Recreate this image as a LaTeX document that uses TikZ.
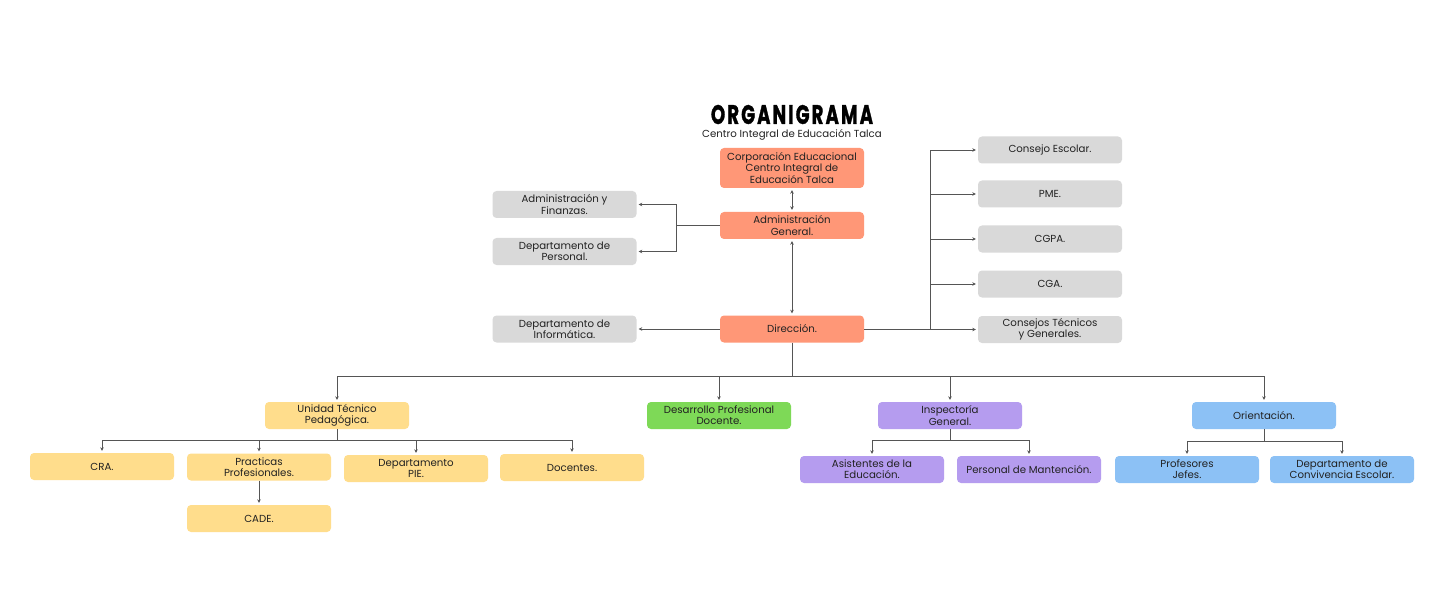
\documentclass[tikz,border=0pt]{standalone}
\usepackage{fontspec}
\setmainfont{Poppins}
\usetikzlibrary{arrows.meta}
\definecolor{salmon}{HTML}{FF9777}
\definecolor{grayb}{HTML}{D9D9D9}
\definecolor{yellowb}{HTML}{FFDD8C}
\definecolor{greenb}{HTML}{7ED957}
\definecolor{purpleb}{HTML}{B59CEF}
\definecolor{blueb}{HTML}{8CC1F5}
\definecolor{linec}{HTML}{555555}
\definecolor{txt}{HTML}{222222}
\begin{document}
\begin{tikzpicture}[x=1pt,y=-1pt,
  box/.style={rounded corners=4pt, minimum width=144pt, minimum height=27pt, align=center, inner sep=1pt, text=txt, font=\fontsize{10.2}{11.2}\selectfont},
  sal/.style={box, fill=salmon},
  gry/.style={box, fill=grayb},
  yel/.style={box, fill=yellowb},
  grn/.style={box, fill=greenb},
  pur/.style={box, fill=purpleb},
  blu/.style={box, fill=blueb},
  ln/.style={draw=linec, line width=0.9pt},
  arr/.style={ln, -{Stealth[length=3.5pt,width=3.5pt]}, shorten >=2pt},
  dbl/.style={ln, {Stealth[length=3.5pt,width=3.5pt]}-{Stealth[length=3.5pt,width=3.5pt]}, shorten >=2pt, shorten <=2pt}
]
\useasboundingbox[fill=white] (0,0) rectangle (1443,596);
% title
\node[inner sep=0pt] (title) at (792,114.5) {\resizebox{162pt}{19pt}{\bfseries\addfontfeature{LetterSpace=12,FakeBold=1.5}ORGANIGRAMA}};
\node[inner sep=0pt, font=\fontsize{10.2}{10.2}\selectfont, text=txt] (sub) at (792,134.5) {Centro Integral de Educación Talca};
% top column
\node[sal, minimum height=40pt] (corp) at (792,168) {Corporación Educacional\\Centro Integral de\\Educación Talca};
\node[sal] (adm) at (792,225.5) {Administración\\General.};
\node[sal] (dir) at (792,329) {Dirección.};
% left grey
\node[gry] (af) at (564.5,204.5) {Administración y\\Finanzas.};
\node[gry] (dp) at (564.5,251.5) {Departamento de\\Personal.};
\node[gry] (inf) at (564.5,329) {Departamento de\\Informática.};
% right grey
\node[gry] (ce) at (1050,150) {Consejo Escolar.};
\node[gry] (pme) at (1050,194) {PME.};
\node[gry] (cgpa) at (1050,239) {CGPA.};
\node[gry] (cga) at (1050,284) {CGA.};
\node[gry] (ctg) at (1050,329.5) {Consejos Técnicos\\y Generales.};
% second level
\node[yel] (utp) at (337,415.5) {Unidad Técnico\\Pedagógica.};
\node[grn] (des) at (719,415.5) {Desarrollo Profesional\\Docente.};
\node[pur] (ins) at (950,415.5) {Inspectoría\\General.};
\node[blu] (ori) at (1264,415.5) {Orientación.};
% utp children
\node[yel] (cra) at (102,466.5) {CRA.};
\node[yel] (pra) at (259,467) {Practicas\\Profesionales.};
\node[yel] (pie) at (416,468.5) {Departamento\\PIE.};
\node[yel] (doc) at (572,467.5) {Docentes.};
\node[yel] (cade) at (259,518.5) {CADE.};
% ins children
\node[pur] (asi) at (872,469.5) {Asistentes de la\\Educación.};
\node[pur] (per) at (1029,469.5) {Personal de Mantención.};
% ori children
\node[blu] (pro) at (1187,469.5) {Profesores\\Jefes.};
\node[blu] (dce) at (1342,469.5) {Departamento de\\Convivencia Escolar.};
% connectors top
\draw[dbl] (corp.south) -- (adm.north);
\draw[dbl] (adm.south) -- (dir.north);
\coordinate (lb) at (676,225.5);
\draw[ln] (adm.west) -- (lb);
\draw[ln] (lb |- af) -- (lb |- dp);
\draw[arr] (lb |- af) -- (af.east);
\draw[arr] (lb |- dp) -- (dp.east);
\draw[arr] (dir.west) -- (inf.west -| inf.east);
\coordinate (rt) at (930,329.5);
\draw[ln] (dir.east |- rt) -- (rt);
\draw[ln] (rt) -- (rt |- ce);
\foreach \n in {ce,pme,cgpa,cga,ctg}{\draw[arr] (rt |- \n) -- (\n.west);}
% bus down
\coordinate (bus) at (792,376);
\draw[ln] (dir.south) -- (bus);
\draw[ln] (utp.north |- bus) -- (ori.north |- bus);
\foreach \n in {utp,des,ins,ori}{\draw[arr] (\n.north |- bus) -- (\n.north);}
% utp bus
\coordinate (ub) at (337,440);
\draw[ln] (utp.south) -- (ub);
\draw[ln] (cra.north |- ub) -- (doc.north |- ub);
\foreach \n in {cra,pra,pie,doc}{\draw[arr] (\n.north |- ub) -- (\n.north);}
\draw[arr] (pra.south) -- (cade.north);
% ins bus
\coordinate (ib) at (950,440);
\draw[ln] (ins.south) -- (ib);
\draw[ln] (asi.north |- ib) -- (per.north |- ib);
\foreach \n in {asi,per}{\draw[arr] (\n.north |- ib) -- (\n.north);}
% ori bus
\coordinate (ob) at (1264,441);
\draw[ln] (ori.south) -- (ob);
\draw[ln] (pro.north |- ob) -- (dce.north |- ob);
\foreach \n in {pro,dce}{\draw[arr] (\n.north |- ob) -- (\n.north);}
\end{tikzpicture}
\end{document}
